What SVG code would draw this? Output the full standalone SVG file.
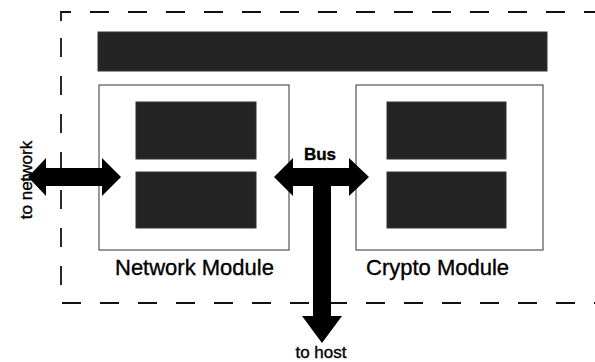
<svg xmlns="http://www.w3.org/2000/svg" width="595" height="362" viewBox="0 0 595 362">
<style>
.dash{fill:none;stroke:#111;stroke-width:1.8;stroke-dasharray:19 19}
.mod{fill:#fff;stroke:#333;stroke-width:1}
.blk{fill:#242424;stroke:#333;stroke-width:1}
.arr{fill:#000}
text{font-family:"Liberation Sans",Arial,sans-serif;fill:#000;stroke:#000;stroke-width:0.35}
.lbl{font-size:22px}
.sm{font-size:17px}
</style>
<rect width="595" height="362" fill="#fff"/>
<g id="boundary">
<path class="dash" d="M61,21 V12 H595"/>
<path class="dash" d="M61,38 V303 H595"/>
</g>
<g id="top-bar"><rect class="blk" x="98" y="32" width="449" height="39"/></g>
<g id="network-module">
<rect class="mod" x="99" y="85" width="190" height="165"/>
<rect class="blk" x="136" y="102" width="120" height="57"/>
<rect class="blk" x="136" y="172" width="120" height="56"/>
<text class="lbl" x="115" y="275">Network Module</text>
</g>
<g id="crypto-module">
<rect class="mod" x="356" y="85" width="187" height="165"/>
<rect class="blk" x="387" y="102" width="119" height="57"/>
<rect class="blk" x="387" y="172" width="119" height="56"/>
<text class="lbl" x="366" y="275">Crypto Module</text>
</g>
<g id="connectors">
<polygon class="arr" points="28,177 46,158 46,168 102,168 102,158 121,177 102,196 102,186 46,186 46,196"/>
<polygon class="arr" points="274,177 293,158 293,168 349,168 349,158 369,177 349,196 349,186 331,186 331,316 342,316 322,343 302,316 313,316 313,186 293,186 293,196"/>
<text class="sm" x="320" y="160" text-anchor="middle" font-weight="bold" font-size="16">Bus</text>
<text class="sm" x="321" y="358" text-anchor="middle">to host</text>
<text class="sm" transform="translate(32,180) rotate(-90)" text-anchor="middle" font-size="18">to network</text>
</g>
</svg>
